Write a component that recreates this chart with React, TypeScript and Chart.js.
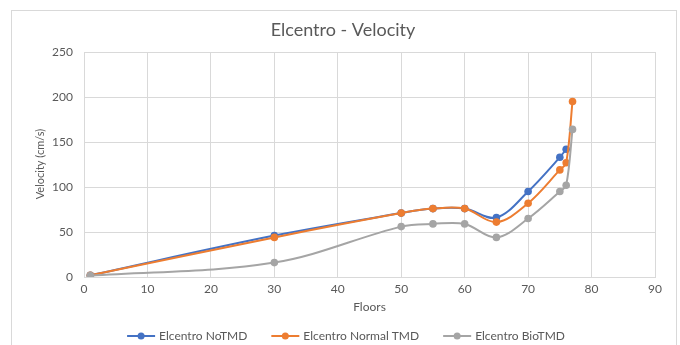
import { useEffect, useRef } from "react";
import { Chart, registerables } from "chart.js";

Chart.register(...registerables);

// Floor levels and peak velocities (cm/s) for the El Centro record
const floors = [1, 30, 50, 55, 60, 65, 70, 75, 76, 77];
const noTmdFloors = [1, 30, 50, 55, 60, 65, 70, 75, 76];
const noTmd = [2, 46, 71, 76, 76, 66, 95, 133, 142];
const normalTmd = [2, 44, 71, 76, 76, 61, 82, 119, 127, 195];
const bioTmd = [1.5, 16, 56, 59, 59, 44, 65, 95, 102, 164];

const seriesNames = ["Elcentro NoTMD", "Elcentro Normal TMD", "Elcentro BioTMD"];
const seriesColors = ["#4472C4", "#ED7D31", "#A5A5A5"];

const chartTitle = "Elcentro - Velocity";
const xTitle = "Floors";
const yTitle = "Velocity (cm/s)";

const FONT = "Lato, 'Open Sans', sans-serif";
const TEXT = "#595959";
const GRID = "#d9d9d9";

const toPoints = (xs: number[], ys: number[]) => ys.map((y, i) => ({ x: xs[i], y }));

// Draws the frame, chart title, axis titles and legend
const decorations = {
  id: "decorations",
  afterDraw(chart: Chart) {
    const ctx = chart.ctx;
    const area = chart.chartArea;
    ctx.save();

    ctx.strokeStyle = GRID;
    ctx.lineWidth = 1;
    ctx.strokeRect(11.5, 10.5, 665, 345);

    ctx.fillStyle = TEXT;
    ctx.textAlign = "center";
    ctx.textBaseline = "middle";
    ctx.font = `18px ${FONT}`;
    ctx.fillText(chartTitle, 343, 30);

    ctx.font = `12px ${FONT}`;
    ctx.fillText(xTitle, (area.left + area.right) / 2, 307);

    ctx.save();
    ctx.translate(40, 164);
    ctx.rotate(-Math.PI / 2);
    ctx.font = `11px ${FONT}`;
    ctx.fillText(yTitle, 0, 0);
    ctx.restore();

    // legend
    ctx.font = `12px ${FONT}`;
    const lineLen = 28;
    const gapText = 4;
    const gapItem = 24;
    const widths = seriesNames.map((n) => ctx.measureText(n).width);
    const total = widths.reduce((s, w) => s + lineLen + gapText + w, 0) + gapItem * (seriesNames.length - 1);
    let x = 346 - total / 2;
    const y = 336;
    seriesNames.forEach((name, i) => {
      ctx.strokeStyle = seriesColors[i];
      ctx.lineWidth = 2;
      ctx.beginPath();
      ctx.moveTo(x, y);
      ctx.lineTo(x + lineLen, y);
      ctx.stroke();
      ctx.fillStyle = seriesColors[i];
      ctx.beginPath();
      ctx.arc(x + lineLen / 2, y, 3.5, 0, Math.PI * 2);
      ctx.fill();
      ctx.fillStyle = TEXT;
      ctx.textAlign = "left";
      ctx.fillText(name, x + lineLen + gapText, y);
      x += lineLen + gapText + widths[i] + gapItem;
    });

    ctx.restore();
  },
};

export default function App() {
  const canvasRef = useRef<HTMLCanvasElement | null>(null);

  useEffect(() => {
    document.body.style.margin = "0";
    const canvas = canvasRef.current;
    if (!canvas) return;

    const makeSet = (label: string, data: { x: number; y: number }[], color: string) => ({
      label,
      data,
      borderColor: color,
      backgroundColor: color,
      borderWidth: 2,
      pointRadius: 3.8,
      pointBorderWidth: 0,
      pointBackgroundColor: color,
      showLine: true,
      tension: 0.35,
    });

    // first dataset is painted last, so BioTMD sits on top, NoTMD underneath
    const chart = new Chart(canvas, {
      type: "scatter",
      data: {
        datasets: [
          makeSet(seriesNames[2], toPoints(floors, bioTmd), seriesColors[2]),
          makeSet(seriesNames[1], toPoints(floors, normalTmd), seriesColors[1]),
          makeSet(seriesNames[0], toPoints(noTmdFloors, noTmd), seriesColors[0]),
        ],
      },
      options: {
        animation: false,
        responsive: false,
        maintainAspectRatio: false,
        layout: { padding: { left: 24, right: 25, top: 52, bottom: 0 } },
        plugins: {
          legend: { display: false },
          title: { display: false },
          tooltip: { enabled: false },
        },
        scales: {
          x: {
            type: "linear",
            min: 0,
            max: 90,
            ticks: { stepSize: 10, color: TEXT, font: { family: FONT, size: 12 }, padding: 5 },
            grid: { color: GRID, drawTicks: false },
            border: { color: GRID },
            afterFit(scale: any) {
              scale.height = 68;
            },
          },
          y: {
            type: "linear",
            min: 0,
            max: 250,
            ticks: { stepSize: 50, color: TEXT, font: { family: FONT, size: 12 }, padding: 11 },
            grid: { color: GRID, drawTicks: false },
            border: { color: GRID },
            afterFit(scale: any) {
              scale.width = 60;
            },
          },
        },
      },
      plugins: [decorations],
    });

    return () => chart.destroy();
  }, []);

  return (
    <div style={{ position: "absolute", left: 0, top: 0, width: 680, height: 345, background: "#fff" }}>
      <canvas ref={canvasRef} width={680} height={345} style={{ width: 680, height: 345 }} />
    </div>
  );
}
